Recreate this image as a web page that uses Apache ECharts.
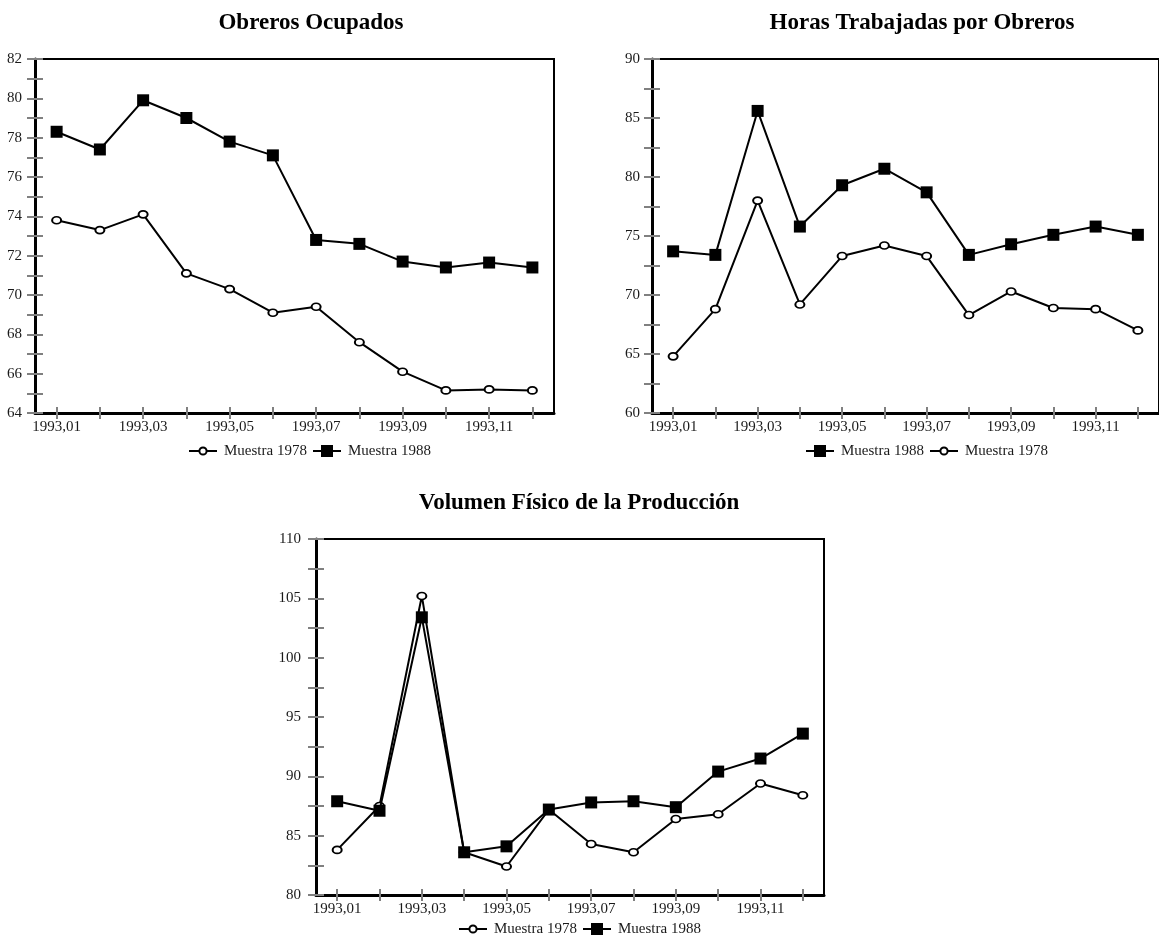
<!DOCTYPE html>
<html>
<head>
<meta charset="utf-8">
<script src="https://cdn.jsdelivr.net/npm/echarts@6/dist/echarts.min.js"></script>
<style>
html,body{margin:0;padding:0;background:#fff;overflow:hidden;}
#c{width:1159px;height:936px;}
</style>
</head>
<body>
<div id="c"></div>
<script>
// ---- data ----
var categories = ['1993,01','1993,02','1993,03','1993,04','1993,05','1993,06','1993,07','1993,08','1993,09','1993,10','1993,11','1993,12'];
var titles = ['Obreros Ocupados', 'Horas Trabajadas por Obreros', 'Volumen F\u00edsico de la Producci\u00f3n'];
var name1978 = 'Muestra 1978';
var name1988 = 'Muestra 1988';
var obreros1978 = [73.8, 73.3, 74.1, 71.1, 70.3, 69.1, 69.4, 67.6, 66.1, 65.15, 65.2, 65.15];
var obreros1988 = [78.3, 77.4, 79.9, 79.0, 77.8, 77.1, 72.8, 72.6, 71.7, 71.4, 71.65, 71.4];
var horas1988 = [73.7, 73.4, 85.6, 75.8, 79.3, 80.7, 78.7, 73.4, 74.3, 75.1, 75.8, 75.1];
var horas1978 = [64.8, 68.8, 78.0, 69.2, 73.3, 74.2, 73.3, 68.3, 70.3, 68.9, 68.8, 67.0];
var vol1978 = [83.8, 87.5, 105.2, 83.6, 82.4, 87.2, 84.3, 83.6, 86.4, 86.8, 89.4, 88.4];
var vol1988 = [87.9, 87.1, 103.4, 83.6, 84.1, 87.2, 87.8, 87.9, 87.4, 90.4, 91.5, 93.6];
var yRanges = [[64, 82, 1, 2], [60, 90, 2.5, 5], [80, 110, 2.5, 5]]; // min, max, tick step, label step

// ---- style ----
var FONT = 'Liberation Serif';
var TXT = '#1a1a1a';
var TICK = '#808080';
var grids = [
  {left: 35, top: 59, width: 519, height: 354},
  {left: 652, top: 59, width: 517, height: 354},
  {left: 316, top: 539, width: 508, height: 356}
];
var yLabelMargin = [13, 12, 15];

var xAxes = [], yAxes = [];
grids.forEach(function (g, i) {
  xAxes.push({
    type: 'category', gridIndex: i, data: categories, boundaryGap: true,
    axisLine: {show: true, lineStyle: {color: '#000', width: 3}},
    axisTick: {show: true, inside: false, length: 6, alignWithLabel: true, interval: 0, lineStyle: {color: TICK, width: 2}},
    axisLabel: {show: true, interval: 1, margin: 7, color: TXT, fontFamily: FONT, fontSize: 15},
    splitLine: {show: false}
  });
  xAxes.push({
    type: 'category', gridIndex: i, data: categories, boundaryGap: true, position: 'bottom',
    axisLine: {show: false},
    axisTick: {show: true, inside: true, length: 6, alignWithLabel: true, interval: 0, lineStyle: {color: TICK, width: 2}},
    axisLabel: {show: false},
    splitLine: {show: false}
  });
  var r = yRanges[i];
  yAxes.push({
    type: 'value', gridIndex: i, min: r[0], max: r[1], interval: r[2],
    axisLine: {show: true, lineStyle: {color: '#000', width: 3}},
    axisTick: {show: true, inside: false, length: 8, lineStyle: {color: TICK, width: 2}},
    axisLabel: {show: true, margin: yLabelMargin[i], color: TXT, fontFamily: FONT, fontSize: 15,
      formatter: function (v) { return (Math.abs(v % r[3]) < 1e-9) ? String(v) : ''; }},
    splitLine: {show: false}
  });
  yAxes.push({
    type: 'value', gridIndex: i, min: r[0], max: r[1], interval: r[2], position: 'left',
    axisLine: {show: false},
    axisTick: {show: true, inside: true, length: 8, lineStyle: {color: TICK, width: 2}},
    axisLabel: {show: false},
    splitLine: {show: false}
  });
});

function circleSeries(name, data, gi) {
  return {
    type: 'line', name: name, data: data, xAxisIndex: gi * 2, yAxisIndex: gi * 2,
    symbol: 'circle', symbolSize: [9, 7], showAllSymbol: true,
    lineStyle: {color: '#000', width: 2},
    itemStyle: {color: '#fff', borderColor: '#000', borderWidth: 1.8},
    animation: false, z: 3
  };
}
function squareSeries(name, data, gi) {
  return {
    type: 'line', name: name, data: data, xAxisIndex: gi * 2, yAxisIndex: gi * 2,
    symbol: 'rect', symbolSize: 12, showAllSymbol: true,
    lineStyle: {color: '#000', width: 2},
    itemStyle: {color: '#000', borderColor: '#000', borderWidth: 0},
    animation: false, z: 4
  };
}

// one legend component per entry so each icon can have its own size
function legendItem(name, left, centerY, h) {
  return {
    orient: 'horizontal', padding: 0, itemGap: 6, itemWidth: 28, itemHeight: h,
    left: left, top: centerY - Math.max(h, 15) / 2,
    textStyle: {color: TXT, fontFamily: FONT, fontSize: 15, padding: [0, 0, 0, 2]},
    selectedMode: false, data: [name]
  };
}
var CIRC_H = 9, SQ_H = 15;
function title(text, cx, top) {
  return {
    text: text, left: cx, top: top, textAlign: 'center', padding: 0,
    textStyle: {fontFamily: FONT, fontWeight: 'bold', fontSize: 23, color: '#000'}
  };
}

var option = {
  backgroundColor: '#fff',
  animation: false,
  title: [title(titles[0], 311, 12), title(titles[1], 922, 12), title(titles[2], 579, 492)],
  legend: [
    legendItem(name1978, 188, 451, CIRC_H),
    legendItem(name1988, 312, 451, SQ_H),
    legendItem(name1988, 805, 451, SQ_H),
    legendItem(name1978, 929, 451, CIRC_H),
    legendItem(name1978, 458, 929, CIRC_H),
    legendItem(name1988, 582, 929, SQ_H)
  ],
  grid: grids.map(function (g) {
    return Object.assign({show: true, borderColor: '#000', borderWidth: 2, backgroundColor: 'transparent'}, g);
  }),
  xAxis: xAxes,
  yAxis: yAxes,
  series: [
    circleSeries(name1978, obreros1978, 0),
    squareSeries(name1988, obreros1988, 0),
    squareSeries(name1988, horas1988, 1),
    circleSeries(name1978, horas1978, 1),
    circleSeries(name1978, vol1978, 2),
    squareSeries(name1988, vol1988, 2)
  ]
};

var chart = echarts.init(document.getElementById('c'), null, {renderer: 'canvas'});
chart.setOption(option);
</script>
</body>
</html>
